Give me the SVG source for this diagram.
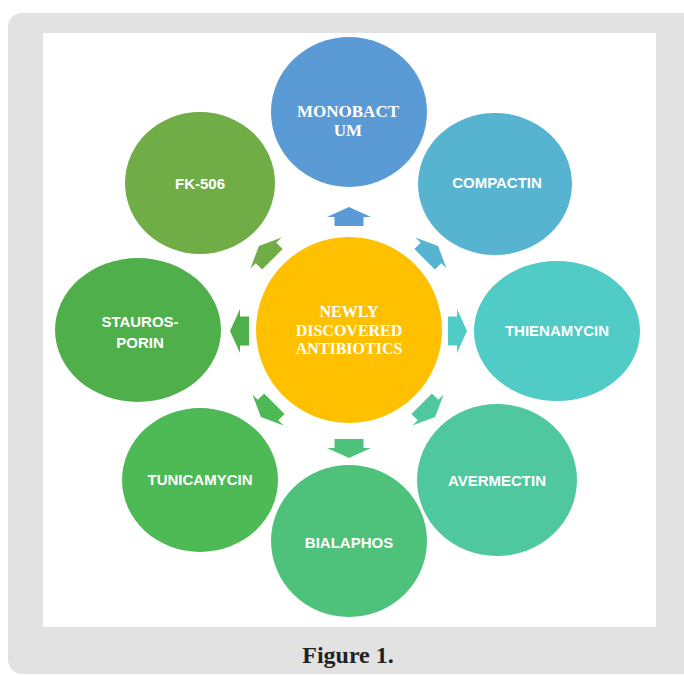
<svg xmlns="http://www.w3.org/2000/svg" width="684" height="675" viewBox="0 0 684 675">
  <defs>
    <style>
      .lbl { font-family: "Liberation Sans", Arial, sans-serif; font-weight: bold; font-size: 15px; fill: #ffffff; text-anchor: middle; }
      .ser { font-family: "Liberation Serif", "Times New Roman", serif; font-weight: bold; fill: #ffffff; text-anchor: middle; }
      .cap { font-family: "Liberation Serif", "Times New Roman", serif; font-weight: bold; font-size: 24px; fill: #222222; text-anchor: middle; }
    </style>
    <path id="arr" d="M -14.5,9 L -14.5,0 L -22,0 L 0,-10 L 22,0 L 14.5,0 L 14.5,9 Z"/>
  </defs>

  <rect x="8" y="13" width="690" height="661" rx="14" ry="14" fill="#e2e2e2"/>
  <rect x="43" y="33" width="613" height="594" fill="#ffffff"/>

  <g id="connectors">
    <use href="#arr" transform="translate(349,217)" fill="#5b9bd5"/>
    <use href="#arr" transform="translate(431,253) rotate(45)" fill="#57b4d0"/>
    <use href="#arr" transform="translate(457,331) rotate(90)" fill="#50cbc5"/>
    <use href="#arr" transform="translate(428,410) rotate(135)" fill="#4fc8a0"/>
    <use href="#arr" transform="translate(349,448) rotate(180)" fill="#4ec27a"/>
    <use href="#arr" transform="translate(268,410) rotate(-135)" fill="#4dba56"/>
    <use href="#arr" transform="translate(240,331) rotate(-90)" fill="#4fb04b"/>
    <use href="#arr" transform="translate(266,253) rotate(-45)" fill="#70ad47"/>
  </g>

  <g id="center">
    <circle cx="349" cy="330" r="93" fill="#ffc000"/>
    <text class="ser" font-size="16" x="349" y="317">NEWLY</text>
    <text class="ser" font-size="16" x="349" y="335.5">DISCOVERED</text>
    <text class="ser" font-size="16" x="349" y="354">ANTIBIOTICS</text>
  </g>

  <g id="monobactum">
    <ellipse cx="349" cy="112" rx="78" ry="75" fill="#5b9bd5"/>
    <text class="ser" font-size="17" x="348" y="117">MONOBACT</text>
    <text class="ser" font-size="17" x="348" y="136">UM</text>
  </g>

  <g id="compactin">
    <ellipse cx="495" cy="184" rx="77" ry="71" fill="#57b4d0"/>
    <text class="lbl" x="497" y="188">COMPACTIN</text>
  </g>

  <g id="thienamycin">
    <ellipse cx="557" cy="331" rx="83" ry="70" fill="#50cbc5"/>
    <text class="lbl" x="557" y="336">THIENAMYCIN</text>
  </g>

  <g id="avermectin">
    <ellipse cx="497" cy="480" rx="80" ry="76" fill="#4fc8a0"/>
    <text class="lbl" x="497" y="486">AVERMECTIN</text>
  </g>

  <g id="bialaphos">
    <ellipse cx="349" cy="541" rx="78" ry="76" fill="#4ec27a"/>
    <text class="lbl" x="349" y="548">BIALAPHOS</text>
  </g>

  <g id="tunicamycin">
    <ellipse cx="200" cy="480" rx="78" ry="72" fill="#4dba56"/>
    <text class="lbl" x="200" y="485">TUNICAMYCIN</text>
  </g>

  <g id="staurosporin">
    <ellipse cx="138" cy="330" rx="83" ry="72" fill="#4fb04b"/>
    <text class="lbl" x="140" y="327">STAUROS-</text>
    <text class="lbl" x="140" y="348">PORIN</text>
  </g>

  <g id="fk506">
    <ellipse cx="200" cy="183" rx="75" ry="71" fill="#70ad47"/>
    <text class="lbl" x="200" y="189">FK-506</text>
  </g>

  <text class="cap" x="348" y="663">Figure 1.</text>
</svg>
